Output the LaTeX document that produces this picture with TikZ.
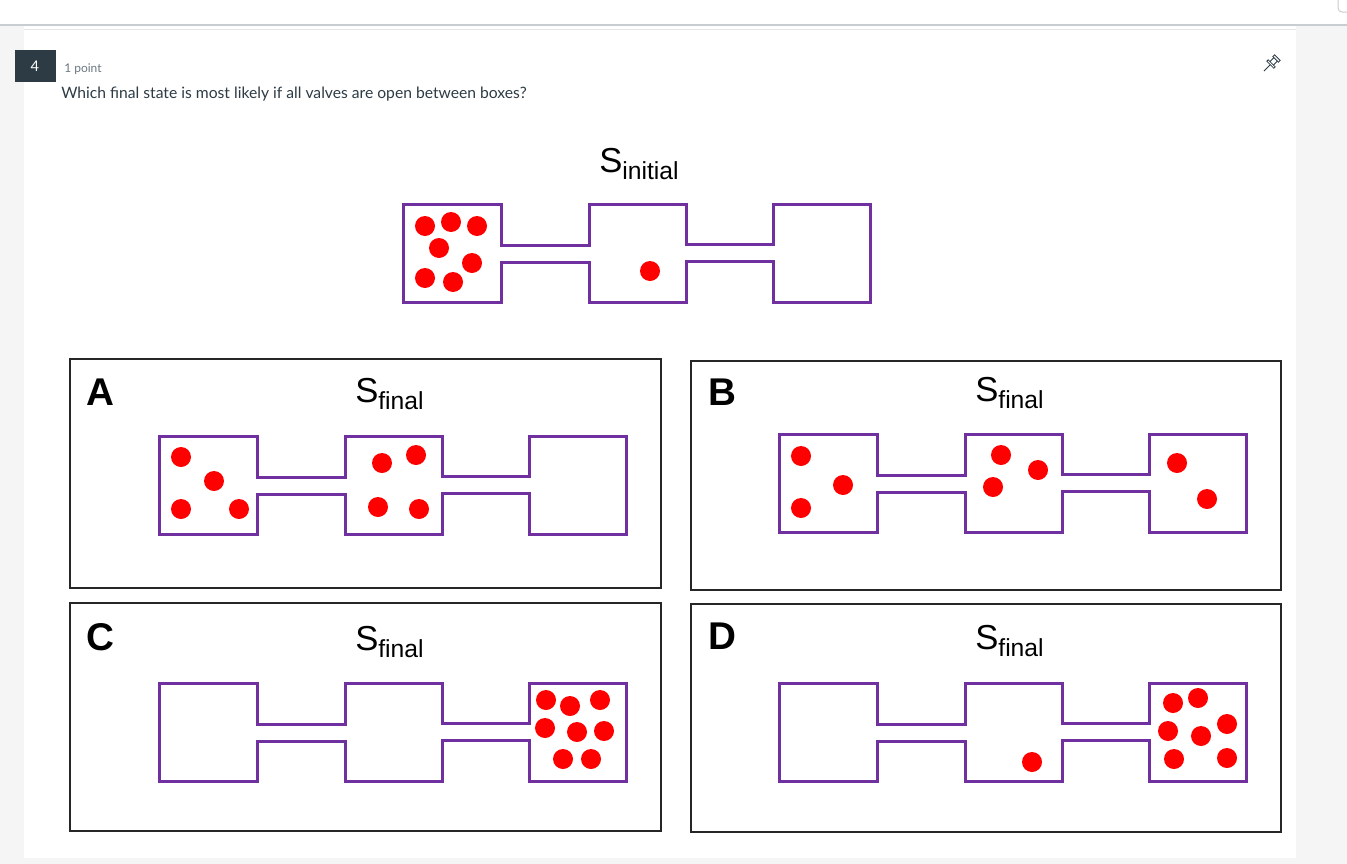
\documentclass[tikz,border=0pt]{standalone}
\usepackage{fontspec}
\setmainfont{Liberation Sans}
\newfontfamily\latofont{Lato}
\usetikzlibrary{positioning}
\definecolor{vpurple}{HTML}{7030A0}
\definecolor{vred}{HTML}{FF0000}
\definecolor{inkdark}{HTML}{2D3B45}
\definecolor{inkgrey}{HTML}{6B7780}
\definecolor{pagegrey}{HTML}{F5F5F5}
\definecolor{rulegrey}{HTML}{C7CDD1}
\tikzset{
  vessel/.style={draw=vpurple, line width=2.25pt, line join=miter},
  ball/.style={fill=vred},
  panel frame/.style={draw=black!85, line width=0.8pt},
  opt label/.style={font=\fontsize{29}{29}\selectfont\bfseries, inner sep=0pt},
  state label/.style={anchor=base west, inner sep=0pt},
  pics/vessels/.style={code={
    \draw[vessel] (0,0) -- (98,0) -- (98,41) -- (186,41) -- (186,0) -- (283,0)
      -- (283,40) -- (370,40) -- (370,0) -- (467,0) -- (467,98) -- (370,98)
      -- (370,57) -- (283,57) -- (283,98) -- (186,98) -- (186,58) -- (98,58)
      -- (98,98) -- (0,98) -- cycle;
  }},
}
\newcommand{\statename}[1]{{\fontsize{26}{26}\selectfont S}\raisebox{-5.25pt}{\fontsize{18.5}{18.5}\selectfont #1}}

\begin{document}
\begin{tikzpicture}[x=0.75pt, y=-0.75pt]
 \useasboundingbox (0,0) rectangle (1347,864);
 % page background
 \fill[pagegrey] (0,25) rectangle (24,864);
 \fill[pagegrey] (1296,25) rectangle (1347,864);
 \fill[pagegrey] (24,858) rectangle (1296,864);
 \draw[rulegrey, line width=1pt] (0,25) -- (1347,25);
 \draw[pagegrey!60!rulegrey, line width=0.5pt] (24,29.5) -- (1296,29.5);
 \draw[rulegrey, line width=0.75pt, rounded corners=3pt] (1347,12) -- (1338,12) -- (1338,-3);
 % question header
 \node[fill=inkdark, text=white, minimum width=30.75pt, minimum height=24pt,
   inner sep=0pt, font=\latofont\fontsize{11}{11}\selectfont] (badge) at (35,66) {4};
 \node[anchor=base west, inner sep=0pt, text=inkgrey,
   font=\latofont\fontsize{9}{9}\selectfont] (points) at (64,72) {1 point};
 \node[anchor=base west, inner sep=0pt, text=inkdark,
   font=\latofont\fontsize{11.75}{11.75}\selectfont] (question) at (61,98)
   {Which final state is most likely if all valves are open between boxes?};
 % pin icon
 \begin{scope}[shift={(1271,64)}, rotate=-45, draw=inkdark, line width=0.6pt]
   \draw (-4,-9) rectangle (4,-6.5);
   \draw (-2.5,-6.5) -- (-2.5,-1) (2.5,-6.5) -- (2.5,-1);
   \draw (-5,-1) rectangle (5,1);
   \draw (0,1) -- (0,10);
 \end{scope}
 % initial state
 \begin{scope}[shift={(403,204)}]
   \pic {vessels};
   \node[state label] (sinit) at (196,-32) {\statename{initial}};
   \foreach \p in {(22,22),(48,18),(74,22),(36,44),(69,59),(22,74),(50,78),(247,67)}
     \fill[ball] \p circle[radius=10];
 \end{scope}
 % option A
 \begin{scope}[shift={(70,359)}]
   \draw[panel frame] (0,0) rectangle (591,229);
   \node[opt label] (labA) at (30,33) {A};
   \begin{scope}[shift={(89,77)}]
     \pic {vessels};
     \node[state label] (sA) at (196,-34) {\statename{final}};
     \foreach \p in {(22,21),(55,45),(22,73),(80,73),(223,27),(257,19),(219,71),(260,73)}
       \fill[ball] \p circle[radius=10];
   \end{scope}
 \end{scope}
 % option B
 \begin{scope}[shift={(691,361)}]
   \draw[panel frame] (0,0) rectangle (590,229);
   \node[opt label] (labB) at (31,31) {B};
   \begin{scope}[shift={(88,73)}]
     \pic {vessels};
     \node[state label] (sB) at (196,-33) {\statename{final}};
     \foreach \p in {(22,22),(64,51),(22,74),(222,21),(259,36),(214,53),(398,29),(428,65)}
       \fill[ball] \p circle[radius=10];
   \end{scope}
 \end{scope}
 % option C
 \begin{scope}[shift={(70,603)}]
   \draw[panel frame] (0,0) rectangle (591,228);
   \node[opt label] (labC) at (30,34) {C};
   \begin{scope}[shift={(89,80)}]
     \pic {vessels};
     \node[state label] (sC) at (196,-33) {\statename{final}};
     \foreach \p in {(387,17),(411,23),(441,17),(386,45),(418,49),(445,48),(404,76),(432,76)}
       \fill[ball] \p circle[radius=10];
   \end{scope}
 \end{scope}
 % option D
 \begin{scope}[shift={(691,604)}]
   \draw[panel frame] (0,0) rectangle (590,228);
   \node[opt label] (labD) at (31,32) {D};
   \begin{scope}[shift={(88,79)}]
     \pic {vessels};
     \node[state label] (sD) at (196,-34) {\statename{final}};
     \foreach \p in {(394,20),(419,15),(448,41),(389,48),(422,53),(395,76),(448,75),(253,79)}
       \fill[ball] \p circle[radius=10];
   \end{scope}
 \end{scope}
\end{tikzpicture}
\end{document}
